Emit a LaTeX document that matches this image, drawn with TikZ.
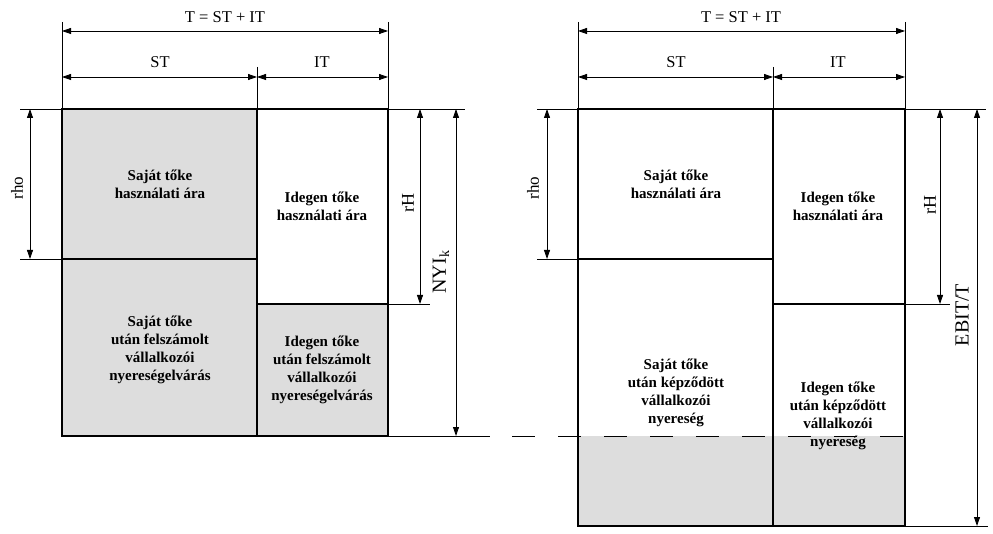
\documentclass[tikz,border=0pt]{standalone}
\usepackage{fontspec}
\setmainfont{Liberation Serif}
\usetikzlibrary{arrows.meta}
\definecolor{boxgray}{HTML}{DDDDDD}
\begin{document}
\begin{tikzpicture}[x=1pt,y=-1pt,
  box/.style={line width=2.2pt},
  ext/.style={line width=0.8pt},
  dimline/.style={line width=0.8pt,{Triangle[length=9pt,width=6pt]}-{Triangle[length=9pt,width=6pt]}},
  lbl/.style={font=\fontsize{15}{18}\selectfont\bfseries, align=center, inner sep=0pt},
  dlbl/.style={font=\fontsize{16.5}{19}\selectfont, inner sep=0pt},
  vlbl/.style={font=\fontsize{#1}{#1}\selectfont, inner sep=0pt, rotate=90}]
\useasboundingbox (0,0) rectangle (993,534);

% ================= LEFT DIAGRAM =================
\fill[boxgray] (62,109) rectangle (257,436);
\fill[boxgray] (257,304) rectangle (388,436);

\node[lbl] (l1) at (160,184) {Saját tőke\\használati ára};
\node[lbl] (l2) at (322,206) {Idegen tőke\\használati ára};
\node[lbl] (l3) at (160,350) {Saját tőke\\után felszámolt\\vállalkozói\\nyereségelvárás};
\node[lbl] (l4) at (322,370) {Idegen tőke\\után felszámolt\\vállalkozói\\nyereségelvárás};

\draw[box] (62,109) rectangle (388,436);
\draw[box] (257,109) -- (257,436);
\draw[box] (62,259) -- (257,259);
\draw[box] (257,304) -- (388,304);

% top dimensions
\coordinate (LTa) at (62,31);  \coordinate (LTb) at (388,31);
\coordinate (LSa) at (62,77);  \coordinate (LSm) at (257,77); \coordinate (LSb) at (388,77);
\draw[ext] (62,22) -- (62,109);
\draw[ext] (388,22) -- (388,109);
\draw[ext] (257,67) -- (257,109);
\draw[dimline] (LTa) -- (LTb);
\draw[dimline] (LSa) -- (LSm);
\draw[dimline] (LSm) -- (LSb);
\node[dlbl] (lT) at (225,17) {T = ST + IT};
\node[dlbl] (lST) at (160,62) {ST};
\node[dlbl] (lIT) at (322,62) {IT};

% left dimension
\coordinate (LRa) at (30,109); \coordinate (LRb) at (30,259);
\draw[ext] (20,109) -- (62,109);
\draw[ext] (20,259) -- (62,259);
\draw[dimline] (LRa) -- (LRb);
\node[vlbl=17] (lrho) at (17,188) {rho};

% right dimensions
\coordinate (LHa) at (420,109); \coordinate (LHb) at (420,304);
\coordinate (LNa) at (456,109); \coordinate (LNb) at (456,436);
\draw[ext] (388,109) -- (465,109);
\draw[ext] (388,304) -- (430,304);
\draw[ext] (388,436) -- (490,436);
\draw[dimline] (LHa) -- (LHb);
\draw[dimline] (LNa) -- (LNb);
\node[vlbl=18] (lrH) at (408,203) {rH};
\node[vlbl=20] (lNYI) at (441,272) {NYI\textsubscript{k}};

% ================= RIGHT DIAGRAM =================
\fill[boxgray] (578,436) rectangle (905,526);

\node[lbl] (r1) at (676,184) {Saját tőke\\használati ára};
\node[lbl] (r2) at (838,206) {Idegen tőke\\használati ára};
\node[lbl] (r3) at (676,393) {Saját tőke\\után képződött\\vállalkozói\\nyereség};
\node[lbl] (r4) at (838,416) {Idegen tőke\\után képződött\\vállalkozói\\nyereség};

% dashed level line
\draw[ext, dash pattern=on 23pt off 23pt] (512,436) -- (905,436);

\draw[box] (578,109) rectangle (905,526);
\draw[box] (773,109) -- (773,526);
\draw[box] (578,259) -- (773,259);
\draw[box] (773,304) -- (905,304);

% top dimensions
\coordinate (RTa) at (578,31);  \coordinate (RTb) at (905,31);
\coordinate (RSa) at (578,77);  \coordinate (RSm) at (773,77); \coordinate (RSb) at (905,77);
\draw[ext] (578,22) -- (578,109);
\draw[ext] (905,22) -- (905,109);
\draw[ext] (773,67) -- (773,109);
\draw[dimline] (RTa) -- (RTb);
\draw[dimline] (RSa) -- (RSm);
\draw[dimline] (RSm) -- (RSb);
\node[dlbl] (rT) at (741,17) {T = ST + IT};
\node[dlbl] (rST) at (676,62) {ST};
\node[dlbl] (rIT) at (838,62) {IT};

% left dimension
\coordinate (RRa) at (547,109); \coordinate (RRb) at (547,259);
\draw[ext] (537,109) -- (578,109);
\draw[ext] (537,259) -- (578,259);
\draw[dimline] (RRa) -- (RRb);
\node[vlbl=17] (rrho) at (533,188) {rho};

% right dimensions
\coordinate (RHa) at (940,109); \coordinate (RHb) at (940,304);
\coordinate (REa) at (977,109); \coordinate (REb) at (977,526);
\draw[ext] (905,109) -- (986,109);
\draw[ext] (905,304) -- (950,304);
\draw[ext] (905,526) -- (988,526);
\draw[dimline] (RHa) -- (RHb);
\draw[dimline] (REa) -- (REb);
\node[vlbl=18] (rrH) at (930,205) {rH};
\node[vlbl=20] (rEBIT) at (962,315) {EBIT/T};
\end{tikzpicture}
\end{document}
